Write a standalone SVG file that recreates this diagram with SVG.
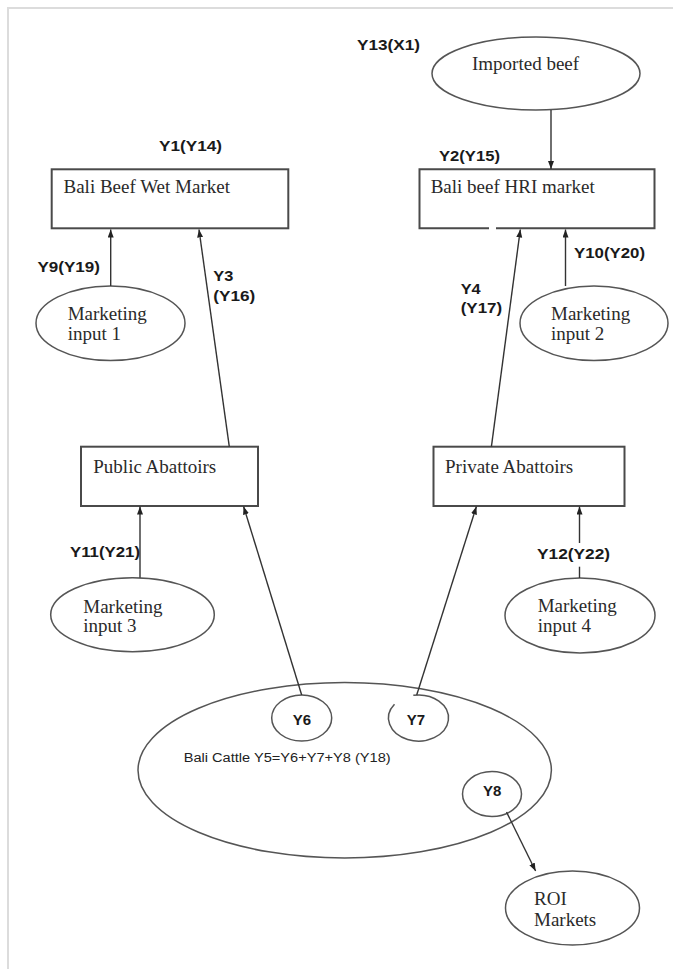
<svg xmlns="http://www.w3.org/2000/svg" width="673" height="969" viewBox="0 0 673 969">
<style>
.bg{fill:#fff}
.frame{fill:none;stroke:#dcdcdc;stroke-width:2}
.box{fill:#fff;stroke:#4a4a4a;stroke-width:2}
.ell{fill:#fff;stroke:#555;stroke-width:1.5}
.sm{fill:none;stroke:#555;stroke-width:1.5}
.conn{stroke:#333;stroke-width:1.4;fill:none}
.lbl{font-family:"Liberation Sans",Arial,sans-serif;font-weight:bold;font-size:15px;fill:#1a1a1a}
.srf{font-family:"Liberation Serif","Times New Roman",serif;font-size:19px;fill:#2a2a2a}
.cat{font-family:"Liberation Sans",Arial,sans-serif;font-size:12px;fill:#222}
</style>
<defs>
<marker id="ah" markerUnits="userSpaceOnUse" markerWidth="9" markerHeight="7" refX="8" refY="3" orient="auto">
<path d="M0,0 L8,3 L0,6 z" fill="#222"/>
</marker>
</defs>
<rect class="bg" x="0" y="0" width="673" height="969"/>
<path class="frame" d="M8,969 V8 H673"/>

<g id="imported-beef">
<ellipse class="ell" cx="536" cy="73.5" rx="104" ry="36.5"/>
<text class="srf" x="472" y="70">Imported beef</text>
</g>
<text class="lbl" x="357" y="50" textLength="63" lengthAdjust="spacingAndGlyphs">Y13(X1)</text>

<g id="wet-market">
<rect class="box" x="51.7" y="169.3" width="236.6" height="59"/>
<text class="srf" x="63.5" y="193.3">Bali Beef Wet Market</text>
</g>
<text class="lbl" x="159" y="151" textLength="63" lengthAdjust="spacingAndGlyphs">Y1(Y14)</text>

<g id="hri-market">
<path class="box" d="M489,228.3 H419.5 V169.3 H654.5 V228.3 H496"/>
<text class="srf" x="430.7" y="193.3">Bali beef HRI market</text>
</g>
<text class="lbl" x="439" y="160.5" textLength="61" lengthAdjust="spacingAndGlyphs">Y2(Y15)</text>

<g id="marketing-input-1">
<ellipse class="ell" cx="110.5" cy="323.3" rx="74.5" ry="37.3"/>
<text class="srf" x="67.7" y="320">Marketing</text>
<text class="srf" x="67.7" y="340">input 1</text>
</g>

<g id="marketing-input-2">
<ellipse class="ell" cx="594" cy="323.3" rx="74" ry="37.3"/>
<text class="srf" x="551" y="320">Marketing</text>
<text class="srf" x="551" y="340">input 2</text>
</g>

<g id="public-abattoirs">
<rect class="box" x="81" y="446.7" width="177" height="59.3"/>
<text class="srf" x="93.3" y="473.3">Public Abattoirs</text>
</g>

<g id="private-abattoirs">
<rect class="box" x="433.5" y="446.7" width="191" height="59.3"/>
<text class="srf" x="445" y="473.3">Private Abattoirs</text>
</g>

<g id="marketing-input-3">
<ellipse class="ell" cx="132.5" cy="614.7" rx="81.8" ry="37"/>
<text class="srf" x="83.3" y="612.7">Marketing</text>
<text class="srf" x="83.3" y="632">input 3</text>
</g>

<g id="marketing-input-4">
<ellipse class="ell" cx="580" cy="615.5" rx="75" ry="37.5"/>
<text class="srf" x="537.7" y="611.7">Marketing</text>
<text class="srf" x="537.7" y="631.7">input 4</text>
</g>

<g id="bali-cattle">
<ellipse class="ell" cx="344.7" cy="770.3" rx="206.7" ry="87.7"/>
<text class="cat" x="183.7" y="762" textLength="207" lengthAdjust="spacingAndGlyphs">Bali Cattle Y5=Y6+Y7+Y8 (Y18)</text>
</g>

<g id="y6">
<ellipse class="ell" cx="301.7" cy="718" rx="30" ry="23"/>
<text class="lbl" x="302" y="725" text-anchor="middle">Y6</text>
</g>

<g id="y7">
<path class="sm" d="M413.3,695.35 A30,23 0 1 1 394.5,704.2"/>
<text class="lbl" x="416" y="725" text-anchor="middle">Y7</text>
</g>

<g id="y8">
<ellipse class="ell" cx="492" cy="794" rx="29.5" ry="22.5"/>
<text class="lbl" x="492.3" y="796" text-anchor="middle">Y8</text>
</g>

<g id="roi-markets">
<ellipse class="ell" cx="572.5" cy="908" rx="67" ry="37"/>
<text class="srf" x="534" y="905">ROI</text>
<text class="srf" x="534" y="926">Markets</text>
</g>

<g id="connectors">
<line class="conn" x1="551" y1="110" x2="551" y2="169" marker-end="url(#ah)"/>
<line class="conn" x1="110.7" y1="286" x2="110.7" y2="229.5" marker-end="url(#ah)"/>
<line class="conn" x1="229.3" y1="446.7" x2="199" y2="229.5" marker-end="url(#ah)"/>
<line class="conn" x1="491.4" y1="446.7" x2="520.3" y2="229.5" marker-end="url(#ah)"/>
<line class="conn" x1="565.5" y1="286" x2="565.5" y2="229.5" marker-end="url(#ah)"/>
<line class="conn" x1="140" y1="577.7" x2="140" y2="506.5" marker-end="url(#ah)"/>
<line class="conn" x1="301.7" y1="695" x2="243.6" y2="506.5" marker-end="url(#ah)"/>
<line class="conn" x1="416.7" y1="695" x2="476.4" y2="506.5" marker-end="url(#ah)"/>
<line class="conn" x1="579.5" y1="543" x2="579.5" y2="506.5" marker-end="url(#ah)"/>
<line class="conn" x1="579.5" y1="566.7" x2="579.5" y2="578"/>
<line class="conn" x1="506.5" y1="812" x2="535.6" y2="871" marker-end="url(#ah)"/>
<text class="lbl" x="37.5" y="271.5" textLength="62.5" lengthAdjust="spacingAndGlyphs">Y9(Y19)</text>
<text class="lbl" x="213.3" y="281" textLength="20" lengthAdjust="spacingAndGlyphs">Y3</text>
<text class="lbl" x="213.3" y="301" textLength="42" lengthAdjust="spacingAndGlyphs">(Y16)</text>
<text class="lbl" x="460.7" y="294" textLength="20" lengthAdjust="spacingAndGlyphs">Y4</text>
<text class="lbl" x="460.7" y="312.7" textLength="41.5" lengthAdjust="spacingAndGlyphs">(Y17)</text>
<text class="lbl" x="574" y="258.3" textLength="71" lengthAdjust="spacingAndGlyphs">Y10(Y20)</text>
<text class="lbl" x="70" y="556.7" textLength="70" lengthAdjust="spacingAndGlyphs">Y11(Y21)</text>
<text class="lbl" x="537" y="558.5" textLength="73" lengthAdjust="spacingAndGlyphs">Y12(Y22)</text>
</g>
</svg>
